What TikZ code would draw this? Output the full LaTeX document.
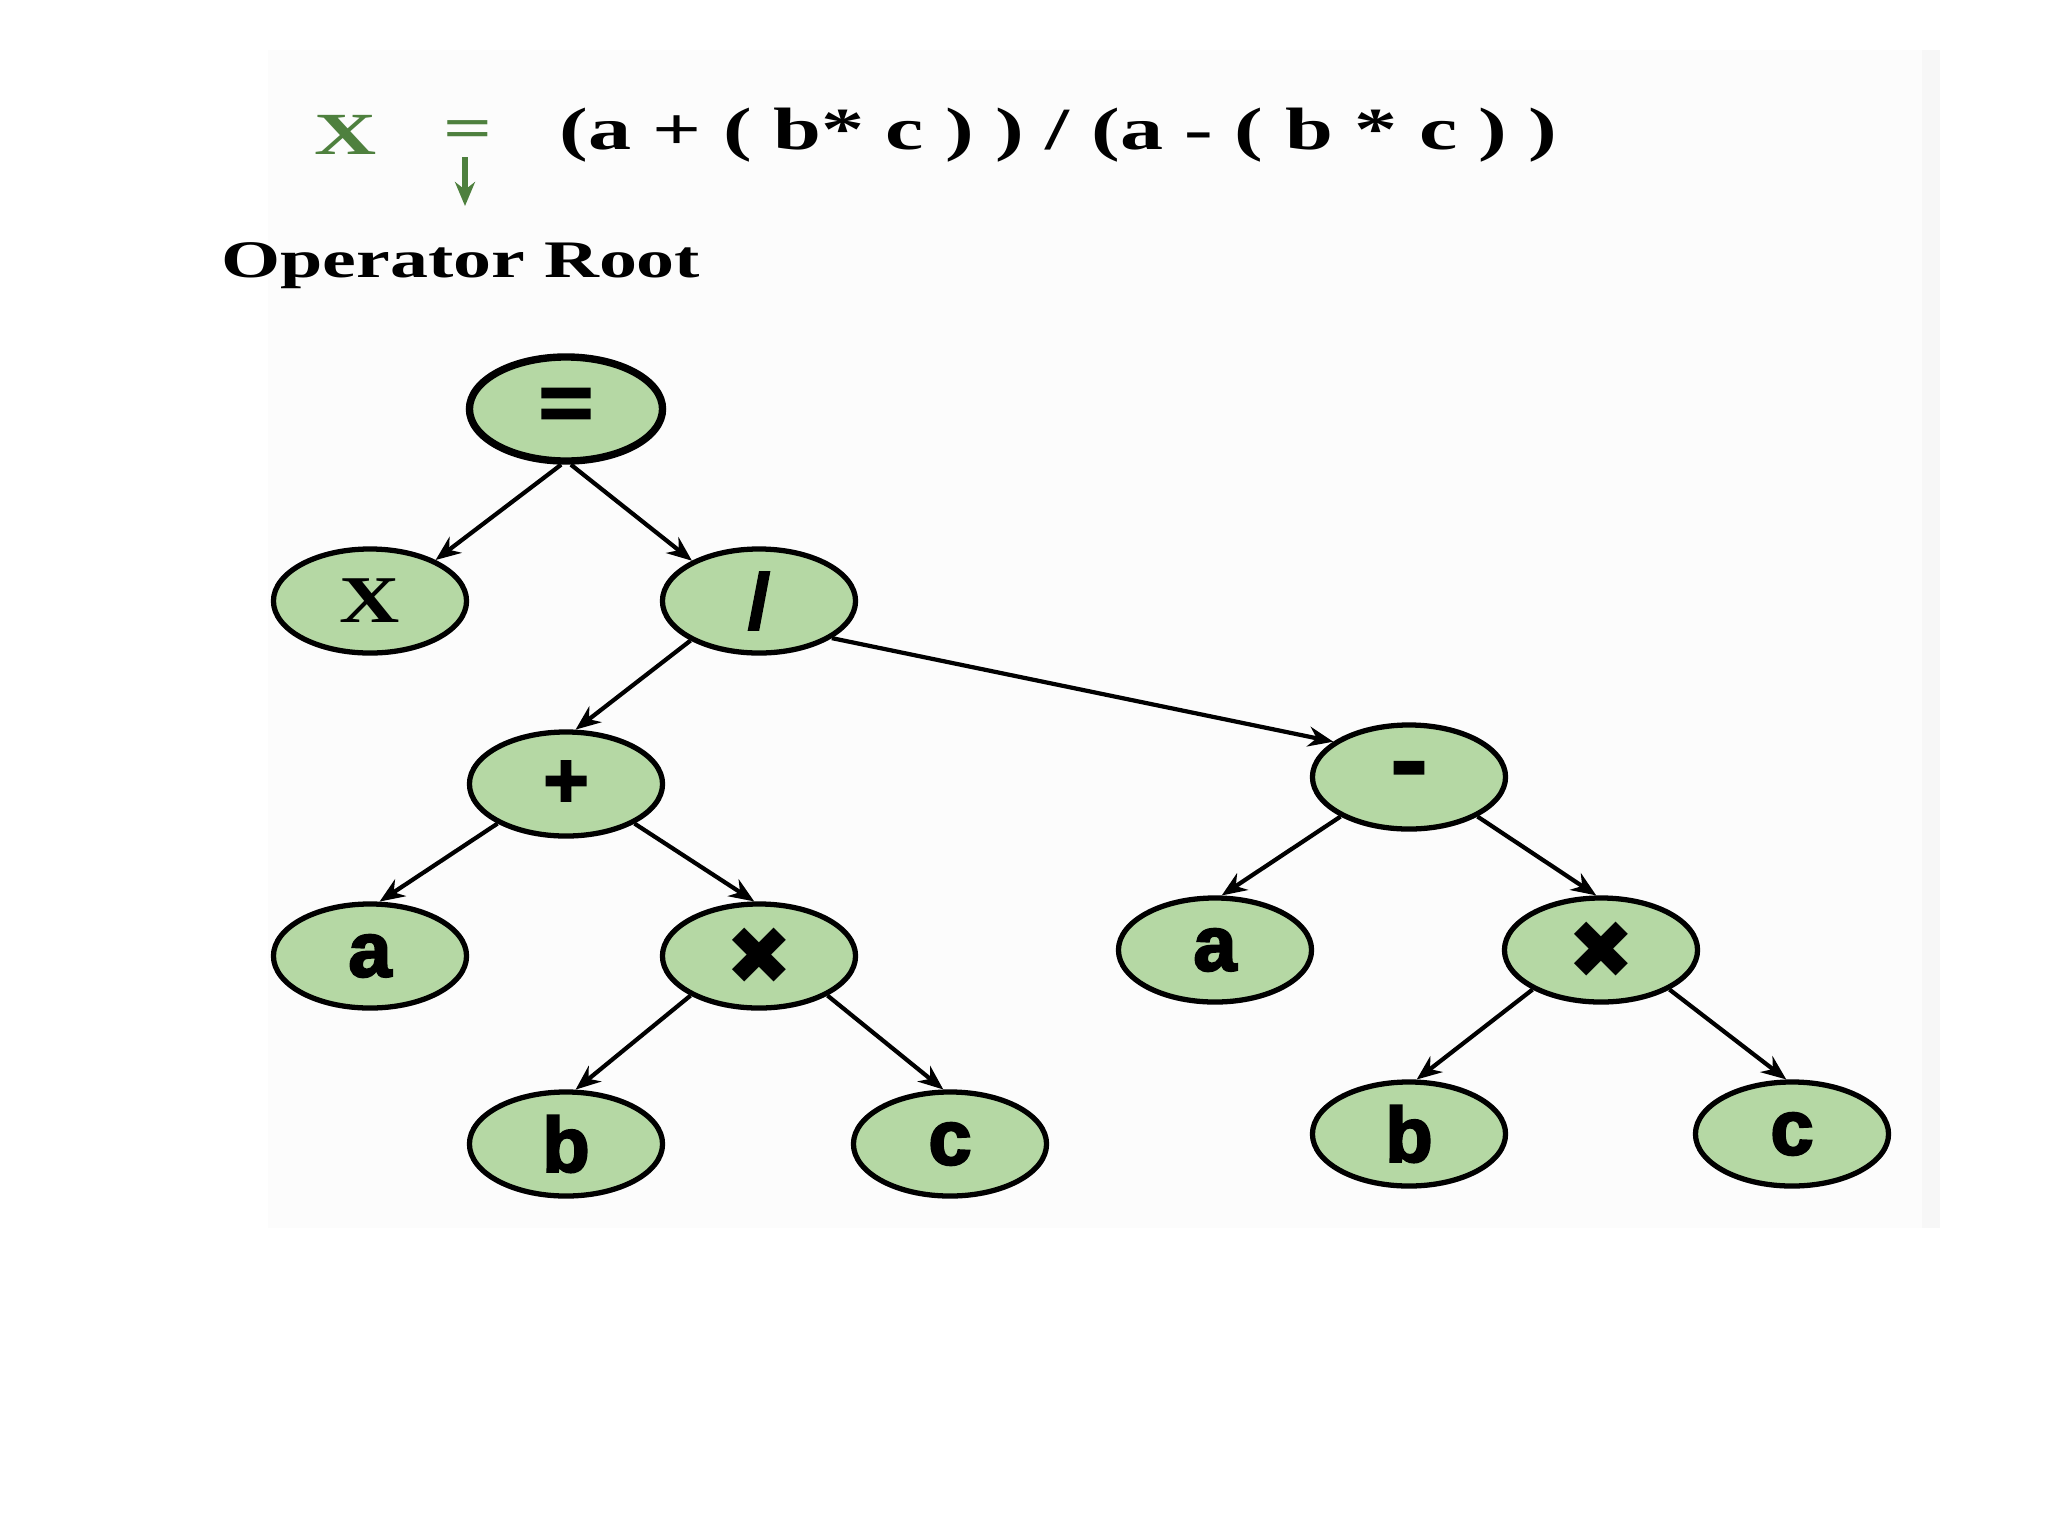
\documentclass[tikz,border=0pt]{standalone}
\usepackage{fontspec}
\setmainfont{Liberation Serif}
\newfontfamily\heavy[FakeBold=3]{Liberation Sans Bold}
\newfontfamily\symfont{DejaVu Sans}
\usetikzlibrary{shapes.geometric,arrows.meta}
\definecolor{nodegreen}{RGB}{181,216,164}
\definecolor{txtgreen}{RGB}{78,128,62}
\newcommand{\hs}[1]{\scalebox{1.44}[1]{#1}}
\tikzset{
  tnode/.style={ellipse,draw=black,line width=1.5pt,fill=nodegreen,
    minimum width=1.93cm,minimum height=1.04cm,inner sep=0pt},
  rootnode/.style={tnode,line width=2.1pt},
  arr/.style={line width=1.2pt,-{Stealth[length=0.25cm,width=0.2cm]}},
  garr/.style={draw=txtgreen,line width=1.8pt,-{Stealth[length=0.24cm,width=0.2cm]}},
  lbl/.style={font=\heavy\fontsize{22}{22}\selectfont},
  toptext/.style={font=\bfseries\fontsize{17}{17}\selectfont},
}
\begin{document}
\begin{tikzpicture}[x=0.01cm,y=-0.01cm]
\useasboundingbox (0,0) rectangle (2048,1536);
\fill[white] (0,0) rectangle (2048,1536);
\fill[black!1] (268,50) rectangle (1938,1228);
\fill[black!3] (1922,50) rectangle (1940,1228);

% formula
\node[toptext,text=txtgreen] (tx) at (346,135) {\hs{X}};
\node[toptext,text=txtgreen] (teq) at (468,135) {\hs{=}};
\node[toptext,anchor=west] (expr) at (547,135) {\hs{(a + ( b* c ) ) / (a - ( b * c ) )}};
\coordinate (ga) at (465,157);
\coordinate (gb) at (465,206);
\draw[garr] (ga) -- (gb);
\node[font=\bfseries\fontsize{15}{15}\selectfont,anchor=west] (oproot) at (209,266) {\hs{Operator Root}};

% tree
\node[rootnode,lbl] (eq) at (566,409) {\scalebox{1.2}[1]{=}};
\node[tnode,font=\bfseries\fontsize{19}{19}\selectfont] (X) at (370,601) {\scalebox{1.25}[1]{X}};
\node[tnode,lbl] (div) at (759,601) {/};
\node[tnode,lbl] (plus) at (566,784) {+};
\node[tnode,lbl] (minus) at (1409,777) {\scalebox{1.4}[1.2]{-}};
\node[tnode,lbl] (aL) at (370,956) {a};
\node[tnode,font=\symfont\fontsize{23}{23}\selectfont] (mL) at (759,956) {✖};
\node[tnode,lbl] (aR) at (1215,950) {a};
\node[tnode,font=\symfont\fontsize{23}{23}\selectfont] (mR) at (1601,950) {✖};
\node[tnode,lbl] (bL) at (566,1144) {b};
\node[tnode,lbl] (cL) at (950,1144) {c};
\node[tnode,lbl] (bR) at (1409,1134) {b};
\node[tnode,lbl] (cR) at (1792,1134) {c};

\draw[arr] (eq.-95) -- (X.32);
\draw[arr] (eq.-85) -- (div.149);
\draw[arr] (div.-150) -- (plus.80);
\draw[arr] (div.-27) -- (minus.155);
\draw[arr] (plus.-150) -- (aL.80);
\draw[arr] (plus.-30) -- (mL.95);
\draw[arr] (mL.-150) -- (bL.80);
\draw[arr] (mL.-30) -- (cL.97);
\draw[arr] (minus.-150) -- (aR.83);
\draw[arr] (minus.-30) -- (mR.95);
\draw[arr] (mR.-150) -- (bR.82);
\draw[arr] (mR.-30) -- (cR.96);
\end{tikzpicture}
\end{document}
